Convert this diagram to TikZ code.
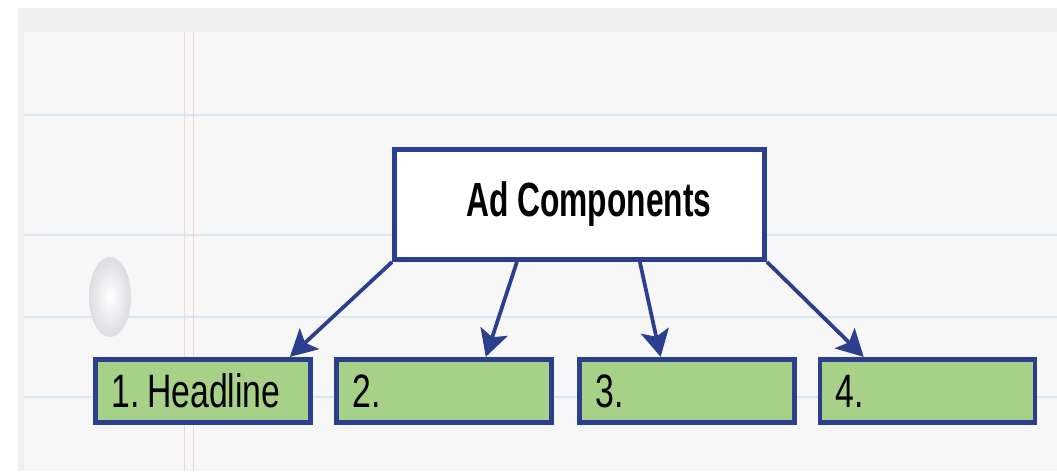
\documentclass[tikz,border=0pt]{standalone}
\usepackage{fontspec}
\setmainfont{Liberation Sans}[FakeStretch=0.72]
\newfontfamily\headfont{Liberation Sans}[FakeStretch=0.66]
\usetikzlibrary{arrows.meta,calc}
\definecolor{navy}{HTML}{2B3F8E}
\definecolor{leaf}{HTML}{A7D088}
\definecolor{paper}{HTML}{F7F7F7}
\definecolor{rule}{HTML}{D8E6F0}
\definecolor{margin}{HTML}{F2D4DA}
\begin{document}
\frenchspacing
\begin{tikzpicture}[x=0.03cm, y=-0.03cm,
		topbox/.style={draw=navy, line width=4.2pt, fill=white, minimum width=11.1cm, minimum height=3.3cm, font=\headfont\fontsize{41}{45}\selectfont\bfseries},
		itembox/.style={draw=navy, line width=4.2pt, fill=leaf, minimum width=6.45cm, minimum height=1.9cm, text width=5.5cm, align=left, font=\fontsize{40}{44}\selectfont},
		link/.style={draw=navy, line width=3.2pt, -{Stealth[length=8mm, width=8.5mm, inset=1.8mm]}}]
	\useasboundingbox (0,0) rectangle (1057,471);
	% sheet of notebook paper
	\fill[white] (0,0) rectangle (1057,471);
	\fill[gray!12] (18,8) rectangle (1057,471);
	\fill[paper] (24,32) rectangle (1057,471);
	\foreach \y in {115,235,317,397}
		\draw[rule, line width=1.2pt] (24,\y) -- (1057,\y);
	\draw[margin, line width=0.8pt] (184,32) -- (184,471);
	\draw[margin, line width=0.8pt] (193,32) -- (193,471);
	\shade[inner color=white, outer color=blue!8!gray!25] (110,297) ellipse (21 and 40);
	% the diagram
	\node[topbox] (ad) at (579.5,204.5) {\hspace*{16pt}Ad Components};
	\node[itembox] (h1) at (203,391) {1.\,Headline};
	\node[itembox] (h2) at (444,391) {2.};
	\node[itembox] (h3) at (687,391) {3.};
	\node[itembox] (h4) at (927.5,391) {4.};
	\draw[link] (ad.south west) -- ($(h1.north west)!0.895!(h1.north east)$);
	\draw[link] ($(ad.south west)!0.333!(ad.south east)$) -- ($(h2.north west)!0.69!(h2.north east)$);
	\draw[link] ($(ad.south west)!0.661!(ad.south east)$) -- ($(h3.north west)!0.38!(h3.north east)$);
	\draw[link] (ad.south east) -- ($(h4.north west)!0.21!(h4.north east)$);
\end{tikzpicture}
\end{document}
